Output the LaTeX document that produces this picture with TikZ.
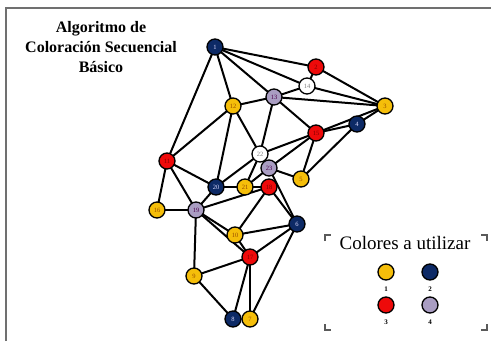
\documentclass[tikz,border=0pt]{standalone}
\usepackage{fontspec}
\setmainfont{Liberation Serif}
\usetikzlibrary{backgrounds}
\definecolor{cyel}{HTML}{F5BE0A}
\definecolor{cnavy}{HTML}{0D2A66}
\definecolor{cred}{HTML}{EE0A0A}
\definecolor{clav}{HTML}{A99DC2}
\definecolor{frame}{HTML}{707070}
\begin{document}
\begin{tikzpicture}[x=1pt,y=-1pt,
  vtx/.style={circle,draw=black,line width=1.3pt,minimum size=16pt,inner sep=0pt,font=\fontsize{6.5}{6.5}\selectfont},
  vy/.style={vtx,fill=cyel,text=orange!60!black},
  vn/.style={vtx,fill=cnavy,text=white!85!blue},
  vr/.style={vtx,fill=cred,text=red!50!black},
  vl/.style={vtx,fill=clav,text=violet!60!black},
  vw/.style={vtx,fill=white,text=gray},
  edge/.style={line width=2pt,black},
  lg/.style={circle,draw=black,line width=1.3pt,minimum size=16pt,inner sep=0pt},
  lgnum/.style={font=\bfseries\fontsize{7}{7}\selectfont,inner sep=0pt},
  corner/.style={line width=1.6pt,frame!80!black}]
\useasboundingbox (0,0) rectangle (491,341);
\draw[frame,line width=1.5pt] (6,341) -- (6,8) -- (491,8);
\node[align=center,font=\bfseries\fontsize{16}{20}\selectfont] (title) at (101,47) {Algoritmo de\\Coloración Secuencial\\Básico};
% vertices
\node[vn] (n1) at (215,47) {1};
\node[vr] (n2) at (316,67) {2};
\node[vy] (n3) at (385,106) {3};
\node[vn] (n4) at (357,124) {4};
\node[vy] (n5) at (301,179) {5};
\node[vn] (n6) at (297,224) {6};
\node[vy] (n7) at (250,319) {7};
\node[vn] (n8) at (233,319) {8};
\node[vy] (n9) at (194,276) {9};
\node[vy] (n10) at (235,235) {10};
\node[vr] (n11) at (167,161) {11};
\node[vy] (n12) at (233,106) {12};
\node[vl] (n13) at (274,97) {13};
\node[vw] (n14) at (307,86) {14};
\node[vr] (n15) at (316,133) {15};
\node[vy] (n16) at (157,210) {16};
\node[vr] (n17) at (250,257) {17};
\node[vr] (n18) at (269,187) {18};
\node[vl] (n19) at (196,210) {19};
\node[vn] (n20) at (216,187) {20};
\node[vy] (n21) at (245,187) {21};
\node[vw] (n22) at (260,154) {22};
\node[vl] (n23) at (269,168) {23};
% edges
\begin{scope}[on background layer]
\foreach \a/\b in {1/2,1/14,1/13,1/12,1/11,2/14,2/3,14/13,14/3,13/3,13/12,13/15,13/22,
  3/15,3/4,4/15,4/5,12/11,12/20,12/22,15/22,15/23,15/5,11/16,11/19,11/20,22/20,22/21,
  23/21,23/5,23/6,20/21,20/19,21/18,18/19,18/10,18/6,16/19,19/10,19/17,19/9,10/6,10/17,
  6/17,6/7,17/9,17/8,17/7,9/8}
  \draw[edge] (n\a.center) -- (n\b.center);
\end{scope}
% legend
\node[font=\fontsize{19}{19}\selectfont] (lgtitle) at (405,243) {Colores a utilizar};
\node[lg,fill=cyel] (l1) at (386,272) {};
\node[lg,fill=cnavy] (l2) at (430,272) {};
\node[lg,fill=cred] (l3) at (386,305) {};
\node[lg,fill=clav] (l4) at (430,305) {};
\node[lgnum] (t1) at (386,289) {1};
\node[lgnum] (t2) at (430,289) {2};
\node[lgnum] (t3) at (386,322) {3};
\node[lgnum] (t4) at (430,322) {4};
\draw[corner] (325,241) -- (325,235) -- (331,235);
\draw[corner] (481,235) -- (487,235) -- (487,241);
\draw[corner] (325,324) -- (325,330) -- (331,330);
\draw[corner] (481,330) -- (487,330) -- (487,324);
\end{tikzpicture}
\end{document}
